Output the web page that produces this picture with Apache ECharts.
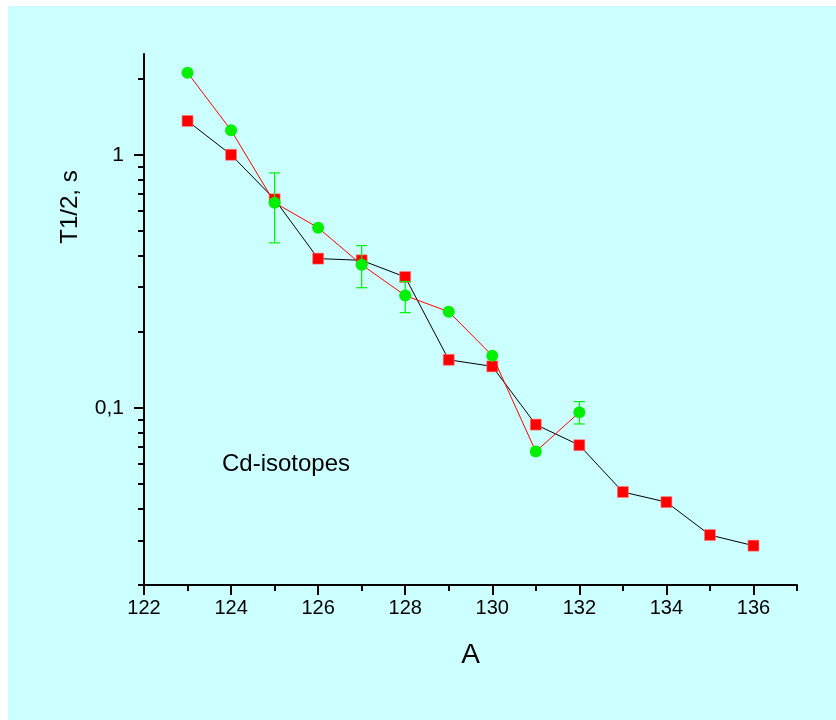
<!DOCTYPE html>
<html>
<head>
<meta charset="utf-8">
<script src="https://cdn.jsdelivr.net/npm/echarts@6/dist/echarts.min.js"></script>
<style>
  html, body { margin: 0; padding: 0; background: #ffffff; }
  #chart { width: 836px; height: 720px; }
</style>
</head>
<body>
<div id="chart"></div>
<script>
// Cd isotopes: half-lives vs mass number A
const massA = [123, 124, 125, 126, 127, 128, 129, 130, 131, 132, 133, 134, 135, 136];
const halfLifeA = [1.36, 1.0, 0.667, 0.389, 0.383, 0.329, 0.155, 0.146, 0.086, 0.0713, 0.0466, 0.0425, 0.0315, 0.0286];

const massB = [123, 124, 125, 126, 127, 128, 129, 130, 131, 132];
const halfLifeB = [2.11, 1.25, 0.647, 0.515, 0.368, 0.278, 0.240, 0.161, 0.0673, 0.0961];

// error bars on the second set (mass, low, high)
const errMass = [125, 127, 128, 132];
const errLow = [0.449, 0.2985, 0.238, 0.0865];
const errHigh = [0.848, 0.438, 0.316, 0.106];

// axis ticks
const xMajorTicks = [122, 124, 126, 128, 130, 132, 134, 136];
const xMinorTicks = [123, 125, 127, 129, 131, 133, 135, 137];
const yMajorTicks = [0.1, 1];
const yMinorTicks = [0.02, 0.03, 0.04, 0.05, 0.06, 0.07, 0.08, 0.09,
                     0.2, 0.3, 0.4, 0.5, 0.6, 0.7, 0.8, 0.9, 2];

const FONT = 'Liberation Sans, Arial, sans-serif';

const chart = echarts.init(document.getElementById('chart'), null, { renderer: 'canvas' });

const seriesA = massA.map((a, i) => [a, halfLifeA[i]]);
const seriesB = massB.map((a, i) => [a, halfLifeB[i]]);
const errData = errMass.map((a, i) => [a, errLow[i], errHigh[i]]);

const xBase = {
  type: 'value', min: 122, max: 137,
  splitLine: { show: false },
  axisPointer: { show: false }
};
const yBase = {
  type: 'log', logBase: 10, min: 0.02, max: 2.5,
  splitLine: { show: false },
  axisPointer: { show: false }
};

chart.setOption({
  animation: false,
  backgroundColor: '#ffffff',
  graphic: [
    { type: 'rect', z: -10, shape: { x: 8, y: 6, width: 828, height: 714 },
      style: { fill: '#ccffff' } },
    { type: 'text', left: 222, top: 452,
      style: { text: 'Cd-isotopes', font: '24px ' + FONT, fill: '#000000' } },
    { type: 'text', x: 70, y: 207, rotation: Math.PI / 2,
      style: { text: 'T1/2, s', font: '24px ' + FONT, fill: '#000000',
               align: 'center', verticalAlign: 'middle' } }
  ],
  grid: { left: 144, right: 39, top: 54, bottom: 135, containLabel: false, outerBoundsMode: 'none' },
  xAxis: [
    Object.assign({}, xBase, {
      position: 'bottom',
      axisLine: { show: true, lineStyle: { color: '#000', width: 2 } },
      axisTick: { show: true, length: 10, lineStyle: { color: '#000', width: 2 }, customValues: xMajorTicks },
      axisLabel: { show: true, customValues: xMajorTicks, margin: 13, color: '#000',
                   fontSize: 20, fontFamily: FONT },
      name: 'A', nameLocation: 'middle', nameGap: 56,
      nameTextStyle: { fontSize: 28, fontFamily: FONT, color: '#000' }
    }),
    Object.assign({}, xBase, {
      position: 'bottom', offset: 0,
      axisLine: { show: false },
      axisTick: { show: true, length: 6, lineStyle: { color: '#000', width: 2 }, customValues: xMinorTicks },
      axisLabel: { show: false }
    })
  ],
  yAxis: [
    Object.assign({}, yBase, {
      position: 'left',
      axisLine: { show: true, lineStyle: { color: '#000', width: 2 } },
      axisTick: { show: true, length: 10, lineStyle: { color: '#000', width: 2 }, customValues: yMajorTicks },
      axisLabel: { show: true, customValues: yMajorTicks, margin: 20, color: '#000',
                   fontSize: 21, fontFamily: FONT,
                   formatter: v => String(v).replace('.', ',') }
    }),
    Object.assign({}, yBase, {
      position: 'left', offset: 0,
      axisLine: { show: false },
      axisTick: { show: true, length: 6, lineStyle: { color: '#000', width: 2 }, customValues: yMinorTicks },
      axisLabel: { show: false }
    })
  ],
  series: [
    {
      type: 'line', name: 'set A', data: seriesA, z: 2,
      symbol: 'rect', symbolSize: 11,
      itemStyle: { color: '#ff0000', borderColor: '#ff8080', borderWidth: 0.6 },
      lineStyle: { color: '#000000', width: 1 },
      emphasis: { disabled: true }
    },
    {
      type: 'custom', name: 'errors', data: errData, z: 3,
      renderItem: function (params, api) {
        const x = api.value(0);
        const lo = api.coord([x, api.value(1)]);
        const hi = api.coord([x, api.value(2)]);
        const w = 5.5;
        const st = { stroke: '#00f000', lineWidth: 1.2 };
        return {
          type: 'group',
          children: [
            { type: 'line', shape: { x1: lo[0], y1: lo[1], x2: hi[0], y2: hi[1] }, style: st },
            { type: 'line', shape: { x1: hi[0] - w, y1: hi[1], x2: hi[0] + w, y2: hi[1] }, style: st },
            { type: 'line', shape: { x1: lo[0] - w, y1: lo[1], x2: lo[0] + w, y2: lo[1] }, style: st }
          ]
        };
      }
    },
    {
      type: 'line', name: 'set B', data: seriesB, z: 4,
      symbol: 'circle', symbolSize: 12,
      itemStyle: { color: '#00f000', borderWidth: 0 },
      lineStyle: { color: '#ff0000', width: 1 },
      emphasis: { disabled: true }
    }
  ]
});
</script>
</body>
</html>
